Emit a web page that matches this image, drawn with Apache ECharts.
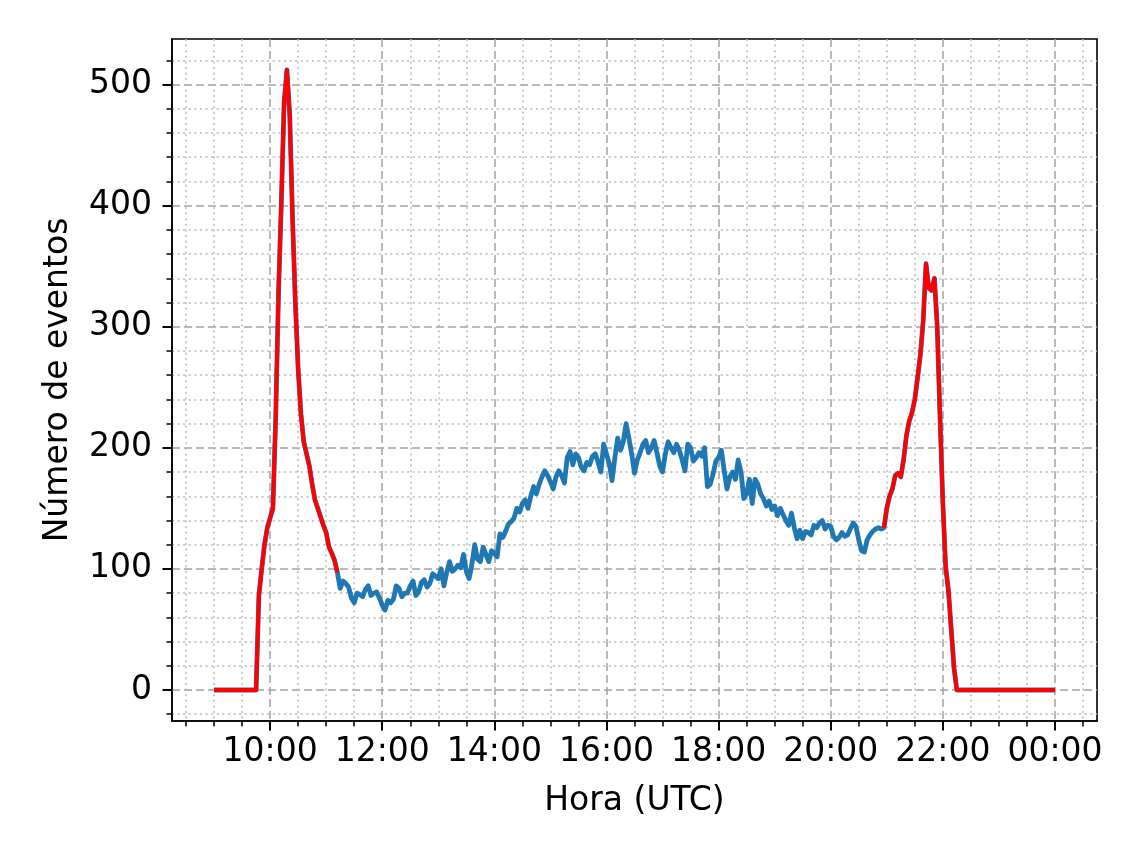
<!DOCTYPE html>
<html>
<head>
<meta charset="utf-8">
<title>Número de eventos por hora</title>
<script src="https://cdn.jsdelivr.net/npm/echarts@6/dist/echarts.min.js"></script>
<style>
  html, body { margin: 0; padding: 0; background: #ffffff; }
  #chart { width: 1135px; height: 846px; }
</style>
</head>
<body>
<div id="chart"></div>
<script>
// Event counts sampled every 3 minutes, from 09:00 to 24:00 (UTC)
const startHour = 9;
const stepMinutes = 3;

const counts = [
  // 09:00 - 09:57
  0, 0, 0, 0, 0, 0, 0, 0, 0, 0, 0, 0, 0, 0, 0, 0, 78, 100, 120, 134,
  // 10:00 - 10:57
  142, 150, 225, 328, 402, 485, 512, 475, 390, 320, 265, 228, 205, 195, 185, 170, 157, 150, 143, 136,
  // 11:00 - 11:57
  130, 118, 113, 107, 97, 84, 90, 88, 85, 76, 72, 80, 79, 77, 83, 86, 78, 80, 81, 76,
  // 12:00 - 12:57
  70, 66, 74, 72, 75, 86, 84, 77, 80, 80, 86, 90, 78, 81, 89, 91, 85, 88, 96, 94,
  // 13:00 - 13:57
  92, 100, 86, 97, 106, 98, 100, 103, 101, 112, 98, 92, 104, 120, 108, 106, 118, 112, 106, 115,
  // 14:00 - 14:57
  113, 110, 129, 126, 131, 137, 139, 142, 150, 147, 154, 157, 150, 160, 168, 162, 170, 176, 181, 177,
  // 15:00 - 15:57
  172, 166, 176, 181, 177, 171, 192, 197, 186, 195, 192, 184, 181, 188, 186, 193, 195, 188, 180, 203,
  // 16:00 - 16:57
  195, 187, 173, 192, 208, 198, 205, 220, 208, 195, 179, 190, 196, 203, 206, 196, 200, 206, 196, 185,
  // 17:00 - 17:57
  180, 195, 205, 200, 196, 203, 198, 190, 181, 203, 200, 189, 192, 196, 193, 200, 168, 170, 178, 189,
  // 18:00 - 18:57
  192, 198, 181, 166, 176, 180, 174, 190, 180, 158, 162, 174, 154, 174, 170, 162, 158, 152, 156, 149,
  // 19:00 - 19:57
  152, 144, 150, 145, 140, 136, 146, 134, 125, 132, 125, 131, 130, 128, 136, 134, 138, 140, 133, 136,
  // 20:00 - 20:57
  135, 127, 124, 126, 130, 127, 128, 133, 138, 135, 124, 115, 114, 124, 128, 131, 133, 134, 133, 134,
  // 21:00 - 21:57
  150, 160, 166, 177, 179, 176, 190, 210, 222, 229, 240, 258, 277, 305, 352, 332, 330, 340, 300, 225,
  // 22:00 - 22:57
  155, 102, 82, 50, 18, 0, 0, 0, 0, 0, 0, 0, 0, 0, 0, 0, 0, 0, 0, 0,
  // 23:00 - 23:57
  0, 0, 0, 0, 0, 0, 0, 0, 0, 0, 0, 0, 0, 0, 0, 0, 0, 0, 0, 0,
  // 24:00
  0
];

// Time windows highlighted in red
const peakWindows = [['09:00', '11:12'], ['20:57', '24:00']];

// Axis ticks
const xTickHours = [10, 12, 14, 16, 18, 20, 22, 24];
const xMinorHours = [8.5, 9, 9.5, 10.5, 11, 11.5, 12.5, 13, 13.5, 14.5, 15, 15.5, 16.5, 17, 17.5,
                     18.5, 19, 19.5, 20.5, 21, 21.5, 22.5, 23, 23.5, 24.5];
const yTickValues = [0, 100, 200, 300, 400, 500];
const yMinorValues = [-20, 20, 40, 60, 80, 120, 140, 160, 180, 220, 240, 260, 280,
                      320, 340, 360, 380, 420, 440, 460, 480, 520];

const xMin = 8.25, xMax = 24.75;
const yMin = -25.6, yMax = 537.6;

const FONT = 'DejaVu Sans';
const BLUE = '#1f77b4';
const RED = '#ff0000';

const toHours = s => { const [h, m] = s.split(':').map(Number); return h + m / 60; };
const points = counts.map((c, i) => [startHour + i * stepMinutes / 60, c]);
const inPeak = h => peakWindows.some(([a, b]) => h >= toHours(a) - 1e-6 && h <= toHours(b) + 1e-6);
const redPoints = points.map(p => inPeak(p[0]) ? p : [p[0], '-']);

const hourLabel = v => String(Math.round(v) % 24).padStart(2, '0') + ':00';

const majorGrid = { show: true, lineStyle: { color: '#a3a3a3', width: 1.5, type: [8, 4] } };
const minorGrid = { show: true, lineStyle: { color: '#b8b8b8', width: 1.5, type: [2, 3.6] } };
const labelStyle = { fontFamily: FONT, fontSize: 33, color: '#000000' };

const chart = echarts.init(document.getElementById('chart'), null, { renderer: 'canvas' });

chart.setOption({
  backgroundColor: '#ffffff',
  animation: false,
  grid: {
    left: 172, top: 39, right: 38, bottom: 125,
    show: true, borderColor: '#000000', borderWidth: 1.6,
    backgroundColor: 'transparent',
    outerBoundsMode: 'none'
  },
  xAxis: [
    {
      type: 'value', min: xMin, max: xMax, position: 'bottom',
      axisLine: { show: true, onZero: false, lineStyle: { color: '#000000', width: 1.6 } },
      axisTick: { show: true, customValues: xTickHours, length: 9.5, lineStyle: { color: '#000000', width: 2 } },
      axisLabel: Object.assign({ show: true, customValues: xTickHours, formatter: hourLabel, margin: 15 }, labelStyle),
      splitLine: majorGrid,
      name: 'Hora (UTC)', nameLocation: 'middle', nameGap: 64,
      nameTextStyle: labelStyle
    },
    {
      type: 'value', min: xMin, max: xMax, position: 'bottom',
      axisLine: { show: false, onZero: false },
      axisTick: { show: true, customValues: xMinorHours, length: 5.5, lineStyle: { color: '#000000', width: 1.5 } },
      axisLabel: { show: false },
      splitLine: minorGrid
    }
  ],
  yAxis: [
    {
      type: 'value', min: yMin, max: yMax, position: 'left',
      axisLine: { show: true, onZero: false, lineStyle: { color: '#000000', width: 1.6 } },
      axisTick: { show: true, customValues: yTickValues, length: 9.5, lineStyle: { color: '#000000', width: 2 } },
      axisLabel: Object.assign({ show: true, customValues: yTickValues, margin: 20 }, labelStyle),
      splitLine: majorGrid,
      name: 'Número de eventos', nameLocation: 'middle', nameGap: 97, nameRotate: 90,
      nameTextStyle: labelStyle
    },
    {
      type: 'value', min: yMin, max: yMax, position: 'left',
      axisLine: { show: false, onZero: false },
      axisTick: { show: true, customValues: yMinorValues, length: 5.5, lineStyle: { color: '#000000', width: 1.5 } },
      axisLabel: { show: false },
      splitLine: minorGrid
    }
  ],
  series: [
    {
      name: 'Eventos', type: 'line', xAxisIndex: 0, yAxisIndex: 0,
      data: points, showSymbol: false, symbol: 'none',
      lineStyle: { color: BLUE, width: 4.8, join: 'round' }, z: 3
    },
    {
      name: 'Picos', type: 'line', xAxisIndex: 0, yAxisIndex: 0,
      data: redPoints, showSymbol: false, symbol: 'none', connectNulls: false,
      lineStyle: { color: RED, width: 4.0, join: 'round' }, z: 4
    }
  ]
});
</script>
</body>
</html>
